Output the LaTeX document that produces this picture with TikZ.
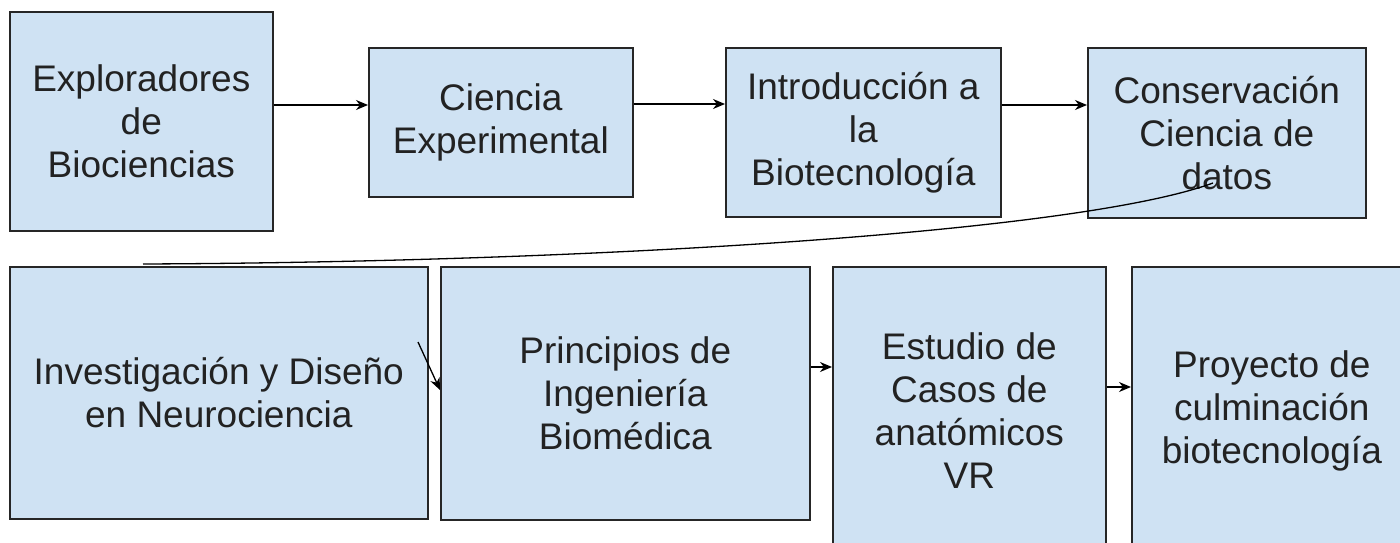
\documentclass[tikz,border=0pt]{standalone}
\usepackage{fontspec}
\setmainfont{Liberation Sans}
\usetikzlibrary{arrows.meta}
\definecolor{boxfill}{HTML}{CFE2F3}
\definecolor{ink}{HTML}{222222}
\begin{document}
\begin{tikzpicture}[x=1pt,y=-1pt,
 box/.style={draw=black!85, line width=1.6pt, fill=boxfill, anchor=north west, inner sep=0pt, align=center, text=ink, font=\fontsize{37}{43}\selectfont},
 conn/.style={line width=1.3pt, -{Stealth[length=12pt,width=10pt]}},
 link/.style={line width=1.3pt}]
\useasboundingbox (0,0) rectangle (1400,543);
\node[box, minimum width=263, minimum height=219] (a) at (9,11) {Exploradores\\de\\Biociencias};
\node[box, minimum width=264, minimum height=149] (b) at (368,47) {Ciencia\\Experimental};
\node[box, minimum width=275, minimum height=169] (c) at (725,47) {Introducción a\\la\\Biotecnología};
\node[box, minimum width=278, minimum height=170] (d) at (1087,47) {Conservación\\Ciencia de\\datos};
\node[box, minimum width=418, minimum height=252] (e) at (9,266) {Investigación y Diseño\\en Neurociencia};
\node[box, minimum width=369, minimum height=253] (f) at (440,266) {Principios de\\Ingeniería\\Biomédica};
\node[box, minimum width=273, minimum height=288] (g) at (832,266) {Estudio de\\Casos de\\anatómicos\\VR};
\node[box, minimum width=280, minimum height=288] (h) at (1131,266) {Proyecto de\\culminación\\biotecnología};
\draw[conn] (a.east |- 0,105) -- (b.west |- 0,105);
\draw[conn] (b.east |- 0,104) -- (c.west |- 0,104);
\draw[conn] (c.east |- 0,105) -- (d.west |- 0,105);
\draw[conn] (f.east |- 0,367) -- (g.west |- 0,367);
\draw[conn] (g.east |- 0,387) -- (h.west |- 0,387);
\coordinate (s1) at (418,342);
\draw[conn] (s1) -- (f.west |- 0,390);
\coordinate (c1) at (1213,183);
\coordinate (c2) at (143,264);
\draw[link] (c1) .. controls (1080,232) and (600,262) .. (c2);
\end{tikzpicture}
\end{document}
